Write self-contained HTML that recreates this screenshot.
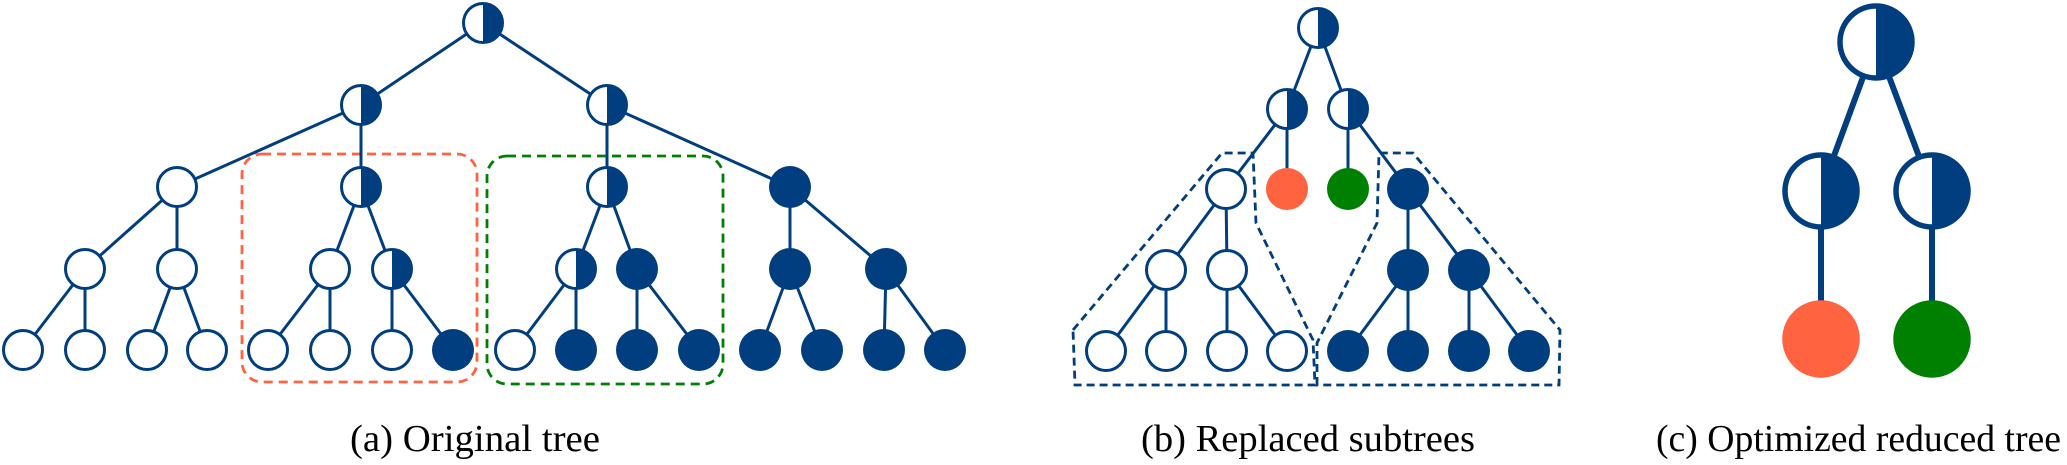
<!DOCTYPE html>
<html><head><meta charset="utf-8"><style>
html,body{margin:0;padding:0;background:#fff;width:2067px;height:465px;overflow:hidden}
text{font-family:"Liberation Serif",serif;font-size:38px;fill:#000}
</style></head><body>
<svg id="s" width="2067" height="465" viewBox="0 0 2067 465" xmlns="http://www.w3.org/2000/svg">
<rect x="242" y="154" width="235" height="228" rx="20" fill="none" stroke="#ff6340" stroke-width="2.8" stroke-dasharray="9,6"/>
<rect x="487" y="156" width="236" height="228" rx="20" fill="none" stroke="#008000" stroke-width="2.8" stroke-dasharray="9,6"/>
<polygon points="1073,330 1222,153 1253,153 1256,223 1313,340 1315,385 1075,385" fill="none" stroke="#003e80" stroke-width="2.8" stroke-dasharray="8,5"/>
<polygon points="1317,385 1317,343 1377,223 1379,153 1413,153 1560,330 1559,385" fill="none" stroke="#003e80" stroke-width="2.8" stroke-dasharray="8,5"/>
<g id="edges"></g><g id="nodes"></g>
<text x="350" y="451" textLength="250" lengthAdjust="spacingAndGlyphs">(a) Original tree</text>
<text x="1141" y="451" textLength="334" lengthAdjust="spacingAndGlyphs">(b) Replaced subtrees</text>
<text x="1656" y="451" textLength="405" lengthAdjust="spacingAndGlyphs">(c) Optimized reduced tree</text>
</svg>
<script>
var B="#003e80",NS="http://www.w3.org/2000/svg";
var E=document.getElementById("edges"),N=document.getElementById("nodes");
function el(p,t,a){var e=document.createElementNS(NS,t);for(var k in a)e.setAttribute(k,a[k]);p.appendChild(e);return e;}
function node(x,y,t,r,sw){
 if(t=="w"||t=="h"){el(N,"circle",{cx:x,cy:y,r:r,fill:"#fff"});
  if(t=="h"){el(N,"path",{d:"M"+x+","+(y-r)+" A"+r+","+r+" 0 0 1 "+x+","+(y+r)+" Z",fill:B});}
  el(N,"circle",{cx:x,cy:y,r:r,fill:"none",stroke:B,"stroke-width":sw});}
 else{var c=t=="b"?B:t=="r"?"#ff6340":"#008000";el(N,"circle",{cx:x,cy:y,r:r+sw/2,fill:c});}
}
function edge(a,b,sw){el(E,"line",{x1:a[0],y1:a[1],x2:b[0],y2:b[1],stroke:B,"stroke-width":sw});}
function tree(nodes,edges,r,sw,esw){edges.forEach(function(e){edge(nodes[e[0]],nodes[e[1]],esw);});nodes.forEach(function(n){node(n[0],n[1],n[2],r,sw);});}
var Y=[23,105,187,269,350];
var a=[[483,Y[0],"h"],[361,Y[1],"h"],[607,Y[1],"h"],
[177,Y[2],"w"],[361,Y[2],"h"],[607,Y[2],"h"],[790,Y[2],"b"],
[85,Y[3],"w"],[177,Y[3],"w"],[330,Y[3],"w"],[392,Y[3],"h"],[576,Y[3],"h"],[637,Y[3],"b"],[790,Y[3],"b"],[886,Y[3],"b"]];
var lx=[23,85,147,207,268,330,392,453,515,576,637,699,760,822,884,945];
var edA=[[0,1],[0,2],[1,3],[1,4],[2,5],[2,6],[3,7],[3,8],[4,9],[4,10],[5,11],[5,12],[6,13],[6,14]];
lx.forEach(function(x,i){a.push([x,Y[4],i<7||i==8?"w":"b"]);edA.push([7+Math.floor(i/2),15+i]);});
tree(a,edA,19.5,3,3);
var b=[[1318,28,"h"],[1287,109,"h"],[1348,109,"h"],
[1226,189,"w"],[1287,189,"r"],[1348,189,"g"],[1408,189,"b"],
[1166,270,"w"],[1227,270,"w"],[1408,270,"b"],[1469,270,"b"]];
var edB=[[0,1],[0,2],[1,3],[1,4],[2,5],[2,6],[3,7],[3,8],[6,9],[6,10]];
[1106,1166,1227,1287,1348,1408,1469,1529].forEach(function(x,i){b.push([x,351,i<4?"w":"b"]);edB.push([7+Math.floor(i/2),11+i]);});
tree(b,edB,19.5,3,3);
var c=[[1876,42,"h"],[1821,191,"h"],[1932,191,"h"],[1821,339,"r"],[1932,339,"g"]];
tree(c,[[0,1],[0,2],[1,3],[2,4]],36,5.5,6);
</script>
</body></html>
